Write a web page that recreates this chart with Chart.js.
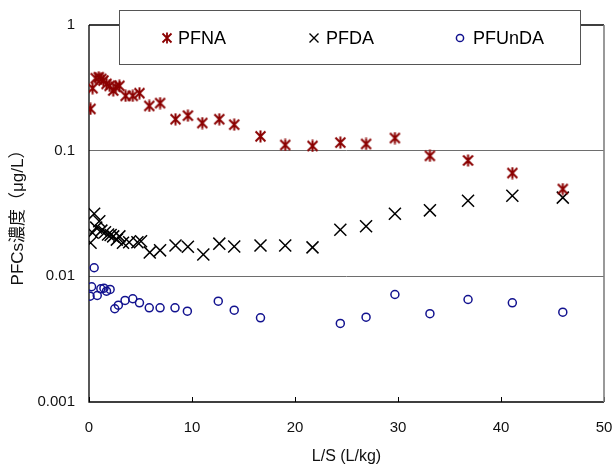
<!DOCTYPE html>
<html>
<head>
<meta charset="utf-8">
<script src="https://cdn.jsdelivr.net/npm/chart.js@4"></script>
<style>
html,body{margin:0;padding:0;background:#fff;}
#wrap{width:616px;height:470px;position:relative;}
</style>
</head>
<body>
<div id="wrap"><canvas id="c" width="616" height="470"></canvas></div>
<script>
// ---- data ----
const seriesNames = ['PFNA', 'PFDA', 'PFUnDA'];

const lsPFNA = [0.15, 0.35, 0.65, 0.95, 1.2, 1.4, 1.7, 2.0, 2.35, 2.6, 2.95, 3.55, 4.25, 4.9, 5.85, 6.9, 8.4, 9.6, 11.0, 12.65, 14.1, 16.65, 19.05, 21.7, 24.4, 26.9, 29.7, 33.1, 36.8, 41.1, 46.0];
const valPFNA = [0.215, 0.314, 0.377, 0.384, 0.372, 0.361, 0.340, 0.328, 0.301, 0.322, 0.328, 0.273, 0.273, 0.287, 0.227, 0.239, 0.178, 0.190, 0.166, 0.178, 0.161, 0.130, 0.111, 0.109, 0.116, 0.113, 0.126, 0.091, 0.0836, 0.0664, 0.0495];

const lsPFDA = [0.15, 0.35, 0.5, 0.7, 1.0, 1.2, 1.55, 1.85, 2.1, 2.35, 2.7, 2.95, 3.3, 3.9, 4.7, 5.05, 5.9, 6.9, 8.4, 9.6, 11.1, 12.65, 14.1, 16.65, 19.05, 21.7, 24.4, 26.9, 29.7, 33.1, 36.8, 41.1, 46.0];
const valPFDA = [0.0185, 0.0222, 0.0315, 0.0244, 0.0274, 0.0231, 0.0224, 0.0215, 0.0213, 0.0208, 0.0196, 0.0208, 0.0185, 0.0187, 0.0187, 0.0190, 0.0155, 0.0161, 0.0176, 0.0172, 0.0149, 0.0182, 0.0173, 0.0176, 0.0176, 0.0170, 0.0235, 0.0250, 0.0315, 0.0335, 0.0400, 0.0438, 0.0423];

const lsPFUnDA = [0.1, 0.25, 0.5, 0.8, 1.15, 1.45, 1.7, 2.05, 2.5, 2.85, 3.5, 4.25, 4.9, 5.85, 6.9, 8.35, 9.55, 12.55, 14.1, 16.65, 24.4, 26.9, 29.7, 33.1, 36.8, 41.1, 46.0];
const valPFUnDA = [0.00695, 0.00826, 0.0117, 0.00704, 0.00796, 0.00805, 0.00762, 0.00786, 0.00552, 0.00589, 0.00643, 0.00663, 0.00616, 0.00562, 0.00562, 0.00562, 0.00528, 0.00634, 0.00538, 0.00468, 0.00422, 0.00473, 0.00717, 0.00504, 0.00654, 0.00616, 0.00519];

const yTickValues = [0.001, 0.01, 0.1, 1];
const yTickLabels = ['0.001', '0.01', '0.1', '1'];
const xTickValues = [0, 10, 20, 30, 40, 50];
const xTitle = 'L/S (L/kg)';
const yTitle = 'PFCs濃度（μg/L）';

// ---- styles ----
const RED = '#8b0000';
const BLUE = '#12128f';
const FONT = "'Liberation Sans', 'Noto Sans CJK JP', sans-serif";

function makeStar(size, color, lw) {
  const c = document.createElement('canvas');
  c.width = size; c.height = size;
  const g = c.getContext('2d');
  const m = size / 2, r = size / 2 - 1;
  g.strokeStyle = color; g.lineWidth = lw; g.lineCap = 'butt';
  g.beginPath();
  g.moveTo(m - r * 0.9, m - r * 0.9); g.lineTo(m + r * 0.9, m + r * 0.9);
  g.moveTo(m + r * 0.9, m - r * 0.9); g.lineTo(m - r * 0.9, m + r * 0.9);
  g.moveTo(m, m - r - 0.5); g.lineTo(m, m + r + 0.5);
  g.stroke();
  return c;
}
const starImg = makeStar(13, RED, 2);
const starLegend = makeStar(12, RED, 1.8);

const toPts = (xs, ys) => xs.map((x, i) => ({x: x, y: ys[i]}));

const frameAndLegend = {
  id: 'frameAndLegend',
  beforeDatasetsDraw(chart) {
    const {ctx, chartArea: a} = chart;
    const xs = chart.scales.x;
    ctx.save();
    ctx.strokeStyle = '#000'; ctx.lineWidth = 1;
    ctx.beginPath();
    xTickValues.forEach(v => {
      const px = Math.round(xs.getPixelForValue(v)) + 0.5;
      ctx.moveTo(px, a.bottom); ctx.lineTo(px, a.bottom - 5);
    });
    ctx.stroke();
    ctx.strokeStyle = '#000'; ctx.lineWidth = 1.3;
    ctx.beginPath();
    ctx.moveTo(a.left, a.top); ctx.lineTo(a.left, a.bottom); ctx.lineTo(a.right, a.bottom);
    ctx.moveTo(a.left, a.top); ctx.lineTo(a.right, a.top);
    ctx.stroke();
    ctx.strokeStyle = '#808080'; ctx.lineWidth = 1.6;
    ctx.beginPath();
    ctx.moveTo(a.right, a.top); ctx.lineTo(a.right, a.bottom);
    ctx.stroke();
    ctx.restore();
  },
  afterDraw(chart) {
    const ctx = chart.ctx;
    ctx.save();
    ctx.fillStyle = '#fff';
    ctx.fillRect(119, 10, 462, 54);
    ctx.strokeStyle = '#555'; ctx.lineWidth = 1;
    ctx.strokeRect(119.5, 10.5, 461, 54);
    const my = 38;
    const markerX = [167, 314, 460];
    const textX = [178, 326, 473];
    ctx.drawImage(starLegend, markerX[0] - 6, my - 6);
    ctx.strokeStyle = '#000'; ctx.lineWidth = 1.4;
    ctx.beginPath();
    ctx.moveTo(markerX[1] - 4.5, my - 4.5); ctx.lineTo(markerX[1] + 4.5, my + 4.5);
    ctx.moveTo(markerX[1] + 4.5, my - 4.5); ctx.lineTo(markerX[1] - 4.5, my + 4.5);
    ctx.stroke();
    ctx.strokeStyle = BLUE; ctx.lineWidth = 1.5;
    ctx.beginPath(); ctx.arc(markerX[2], my, 3.6, 0, Math.PI * 2); ctx.stroke();
    ctx.fillStyle = '#000';
    ctx.font = '18px ' + FONT;
    ctx.textBaseline = 'middle';
    chart.data.datasets.forEach((ds, i) => ctx.fillText(ds.label, textX[i], my + 1));
    ctx.restore();
  }
};

new Chart(document.getElementById('c'), {
  type: 'scatter',
  data: {
    datasets: [
      {label: seriesNames[0], data: toPts(lsPFNA, valPFNA), pointStyle: starImg, pointRadius: 6, borderColor: RED, backgroundColor: RED},
      {label: seriesNames[1], data: toPts(lsPFDA, valPFDA), pointStyle: 'crossRot', pointRadius: 8.5, borderWidth: 1.5, borderColor: '#000', backgroundColor: '#000'},
      {label: seriesNames[2], data: toPts(lsPFUnDA, valPFUnDA), pointStyle: 'circle', pointRadius: 4, borderWidth: 1.5, borderColor: BLUE, backgroundColor: 'rgba(0,0,0,0)'}
    ]
  },
  options: {
    responsive: false,
    animation: false,
    events: [],
    layout: {padding: {left: 0, right: 0, top: 25, bottom: 0}},
    plugins: {legend: {display: false}, tooltip: {enabled: false}},
    scales: {
      x: {
        type: 'linear', min: 0, max: 50,
        afterBuildTicks: s => { s.ticks = xTickValues.map(v => ({value: v})); },
        afterFit: s => { s.height = 68; s.paddingRight = 12; },
        grid: {display: false, drawTicks: false},
        border: {display: false},
        ticks: {padding: 17, color: '#111', font: {family: FONT, size: 15}, maxRotation: 0, callback: v => String(v)},
        title: {display: true, text: xTitle, color: '#111', font: {family: FONT, size: 16}, padding: {top: 0, bottom: 4}}
      },
      y: {
        type: 'logarithmic', min: 0.001, max: 1,
        afterBuildTicks: s => { s.ticks = yTickValues.map(v => ({value: v})); },
        afterFit: s => { s.width = 89; },
        grid: {
          drawTicks: false,
          lineWidth: 1,
          color: c => (c.tick && (c.tick.value === 0.1 || c.tick.value === 0.01)) ? '#6e6e6e' : 'rgba(0,0,0,0)'
        },
        border: {display: false},
        ticks: {padding: 14, color: '#111', font: {family: FONT, size: 15},
          callback: (v) => { const i = yTickValues.indexOf(v); return i >= 0 ? yTickLabels[i] : ''; }},
        title: {display: true, text: yTitle, color: '#111', font: {family: FONT, size: 17}, padding: {top: 8, bottom: 0}}
      }
    }
  },
  plugins: [frameAndLegend]
});
</script>
</body>
</html>
